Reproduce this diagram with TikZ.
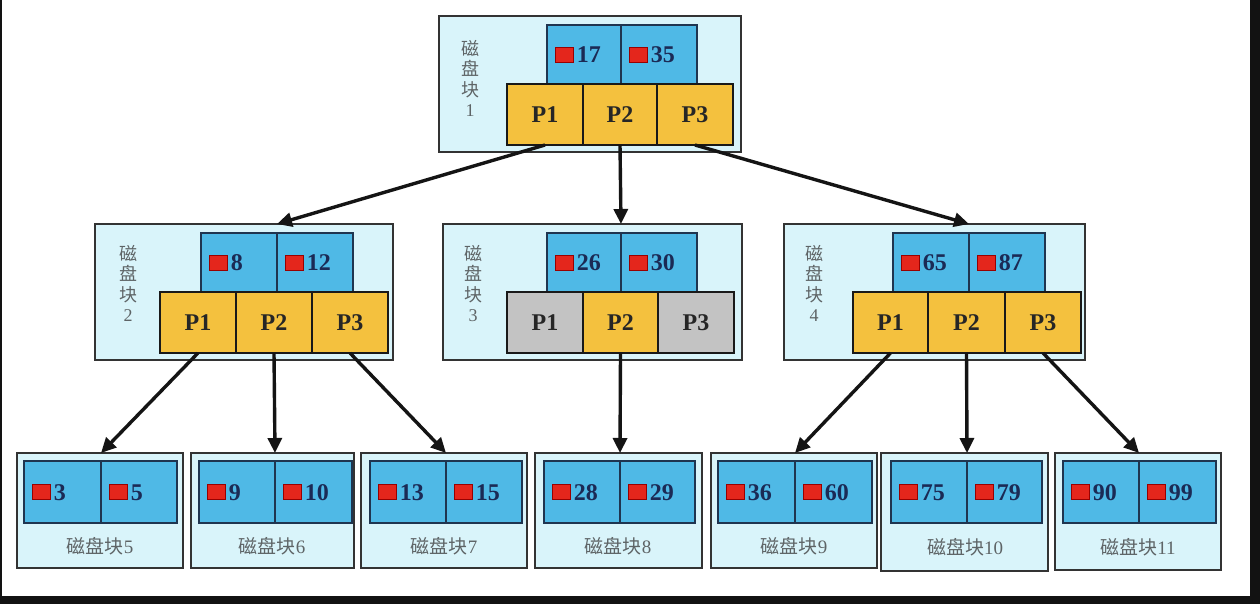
\documentclass[tikz,border=0pt]{standalone}
\usepackage{fontspec}
\setmainfont{Liberation Serif}
\newfontfamily\cjk{Noto Sans CJK SC}
\usetikzlibrary{arrows.meta,calc}
\definecolor{outerfill}{HTML}{D9F4FA}
\definecolor{keyblue}{HTML}{4FB9E6}
\definecolor{keyborder}{HTML}{1F3550}
\definecolor{ptryellow}{HTML}{F4C13E}
\definecolor{ptrgray}{HTML}{C3C3C3}
\definecolor{redsq}{HTML}{E4261C}
\definecolor{numcol}{HTML}{1B2A55}
\definecolor{lblcol}{HTML}{5E6466}
\tikzset{
  outerbox/.style={draw=black!80, line width=1.4pt, fill=outerfill, inner sep=0pt, outer sep=0pt},
  keycellbox/.style={draw=keyborder, line width=1.1pt, fill=keyblue, inner sep=0pt, outer sep=0pt},
  ptrbox/.style={draw=black!90, line width=1.5pt, fill=ptryellow, inner sep=0pt, outer sep=0pt,
    font=\fontsize{24}{26}\selectfont\bfseries, text=black!85},
  ptrgraybox/.style={ptrbox, fill=ptrgray},
  redbox/.style={draw=red!60!black, line width=0.6pt, fill=redsq, minimum width=18pt, minimum height=15pt, inner sep=0pt},
  numtxt/.style={font=\fontsize{24}{26}\selectfont\bfseries, text=numcol, inner sep=0pt},
  vlabel/.style={font=\fontsize{18}{20.5}\selectfont, text=lblcol, align=center, inner sep=0pt},
  blabel/.style={font=\fontsize{19}{21}\selectfont, text=lblcol, inner sep=0pt},
  treearrow/.style={line width=3.4pt, draw=black!92, -{Triangle[length=15pt,width=14pt]}},
}
% name, x1, y1, x2, y2, style, text
\newcommand\rectnode[7]{%
  \node[#6, minimum width={#4-#2}, minimum height={#5-#3}, anchor=north west] (#1) at (#2,#3) {#7};}
% name, x1, y1, x2, y2, number
\newcommand\keycell[6]{%
  \rectnode{#1}{#2}{#3}{#4}{#5}{keycellbox}{}%
  \node[redbox, anchor=west] (#1r) at ([xshift=8pt]#1.west) {};%
  \node[numtxt, anchor=west] (#1n) at ([xshift=3pt,yshift=-0.5pt]#1r.east) {#6};}
\begin{document}
\begin{tikzpicture}[x=1pt,y=-1pt]
\useasboundingbox (0,0) rectangle (1260,604);
\fill[black!93] (0,0) rectangle (1260,604);
\fill[white] (2,0) rectangle (1250,596);

% ---- block 1
\rectnode{b1}{439}{16}{741}{152}{outerbox}{}
\keycell{k1a}{547}{25}{621}{84}{17}
\keycell{k1b}{621}{25}{697}{84}{35}
\rectnode{p1a}{507}{84}{583}{145}{ptrbox}{P1}
\rectnode{p1b}{583}{84}{657}{145}{ptrbox}{P2}
\rectnode{p1c}{657}{84}{733}{145}{ptrbox}{P3}
\node[vlabel, anchor=north] (l1) at (470,40) {{\cjk 磁}\\{\cjk 盘}\\{\cjk 块}\\1};

% ---- block 2
\rectnode{b2}{95}{224}{393}{360}{outerbox}{}
\keycell{k2a}{201}{233}{277}{292}{8}
\keycell{k2b}{277}{233}{353}{292}{12}
\rectnode{p2a}{160}{292}{236}{353}{ptrbox}{P1}
\rectnode{p2b}{236}{292}{312}{353}{ptrbox}{P2}
\rectnode{p2c}{312}{292}{388}{353}{ptrbox}{P3}
\node[vlabel, anchor=north] (l2) at (128,245) {{\cjk 磁}\\{\cjk 盘}\\{\cjk 块}\\2};

% ---- block 3
\rectnode{b3}{443}{224}{742}{360}{outerbox}{}
\keycell{k3a}{547}{233}{621}{292}{26}
\keycell{k3b}{621}{233}{697}{292}{30}
\rectnode{p3a}{507}{292}{583}{353}{ptrgraybox}{P1}
\rectnode{p3b}{583}{292}{658}{353}{ptrbox}{P2}
\rectnode{p3c}{658}{292}{734}{353}{ptrgraybox}{P3}
\node[vlabel, anchor=north] (l3) at (473,245) {{\cjk 磁}\\{\cjk 盘}\\{\cjk 块}\\3};

% ---- block 4
\rectnode{b4}{784}{224}{1085}{360}{outerbox}{}
\keycell{k4a}{893}{233}{969}{292}{65}
\keycell{k4b}{969}{233}{1045}{292}{87}
\rectnode{p4a}{853}{292}{928}{353}{ptrbox}{P1}
\rectnode{p4b}{928}{292}{1005}{353}{ptrbox}{P2}
\rectnode{p4c}{1005}{292}{1081}{353}{ptrbox}{P3}
\node[vlabel, anchor=north] (l4) at (814,245) {{\cjk 磁}\\{\cjk 盘}\\{\cjk 块}\\4};

% ---- leaf blocks
\rectnode{b5}{17}{453}{183}{568}{outerbox}{}
\keycell{k5a}{24}{461}{101}{523}{3}
\keycell{k5b}{101}{461}{177}{523}{5}
\node[blabel] (l5) at (100,546) {{\cjk 磁盘块}5};

\rectnode{b6}{191}{453}{354}{568}{outerbox}{}
\keycell{k6a}{199}{461}{275}{523}{9}
\keycell{k6b}{275}{461}{352}{523}{10}
\node[blabel] (l6) at (272,546) {{\cjk 磁盘块}6};

\rectnode{b7}{361}{453}{527}{568}{outerbox}{}
\keycell{k7a}{370}{461}{446}{523}{13}
\keycell{k7b}{446}{461}{522}{523}{15}
\node[blabel] (l7) at (444,546) {{\cjk 磁盘块}7};

\rectnode{b8}{535}{453}{702}{568}{outerbox}{}
\keycell{k8a}{544}{461}{620}{523}{28}
\keycell{k8b}{620}{461}{695}{523}{29}
\node[blabel] (l8) at (618,546) {{\cjk 磁盘块}8};

\rectnode{b9}{711}{453}{877}{568}{outerbox}{}
\keycell{k9a}{718}{461}{795}{523}{36}
\keycell{k9b}{795}{461}{872}{523}{60}
\node[blabel] (l9) at (794,546) {{\cjk 磁盘块}9};

\rectnode{b10}{881}{453}{1048}{571}{outerbox}{}
\keycell{k10a}{891}{461}{967}{523}{75}
\keycell{k10b}{967}{461}{1042}{523}{79}
\node[blabel] (l10) at (965,547) {{\cjk 磁盘块}10};

\rectnode{b11}{1055}{453}{1221}{570}{outerbox}{}
\keycell{k11a}{1063}{461}{1139}{523}{90}
\keycell{k11b}{1139}{461}{1216}{523}{99}
\node[blabel] (l11) at (1138,547) {{\cjk 磁盘块}11};

% ---- arrows
\draw[treearrow] (p1a.south) -- (b2.north -| k2a.east);
\draw[treearrow] (p1b.south) -- (b3.north -| k3a.east);
\draw[treearrow] (p1c.south) -- (b4.north -| k4a.east);
\draw[treearrow] (p2a.south) -- (b5.north -| k5a.east);
\draw[treearrow] (p2b.south) -- (b6.north -| k6a.east);
\draw[treearrow] (p2c.south) -- (b7.north -| k7a.east);
\draw[treearrow] (p3b.south) -- (b8.north -| k8a.east);
\draw[treearrow] (p4a.south) -- (b9.north -| k9a.east);
\draw[treearrow] (p4b.south) -- (b10.north -| k10a.east);
\draw[treearrow] (p4c.south) -- (b11.north -| k11a.east);
\end{tikzpicture}
\end{document}
